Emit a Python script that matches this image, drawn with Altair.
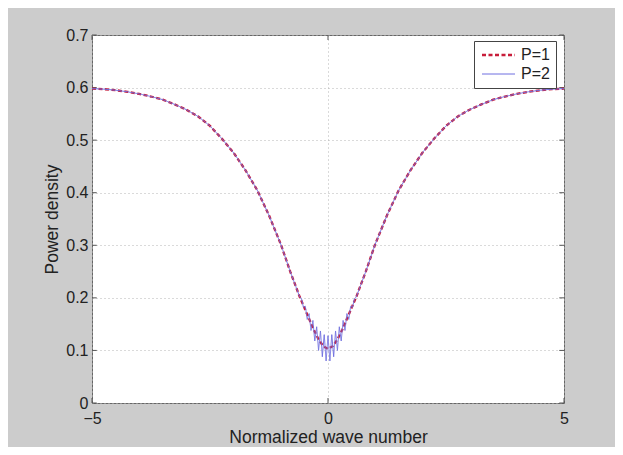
import altair as alt
import pandas as pd

# ---- data ----
series_names = ["P=1", "P=2"]
series_colors = ["#c81d3a", "#6f6fe0"]

x_ticks = [-5, 0, 5]
y_ticks = [0, 0.1, 0.2, 0.3, 0.4, 0.5, 0.6, 0.7]

x_p1 = [-5.0, -4.75, -4.5, -4.25, -4.0, -3.75, -3.5, -3.25, -3.0, -2.75, -2.5, -2.25,
        -2.0, -1.75, -1.5, -1.25, -1.0, -0.8, -0.6, -0.5, -0.4, -0.3, -0.2, -0.1, 0.0,
        0.1, 0.2, 0.3, 0.4, 0.5, 0.6, 0.8, 1.0, 1.25, 1.5, 1.75, 2.0, 2.25, 2.5, 2.75,
        3.0, 3.25, 3.5, 3.75, 4.0, 4.25, 4.5, 4.75, 5.0]
y_p1 = [0.598, 0.597, 0.595, 0.592, 0.588, 0.583, 0.577, 0.568, 0.558, 0.545, 0.527, 0.503,
        0.476, 0.443, 0.405, 0.357, 0.302, 0.250, 0.202, 0.181, 0.160, 0.139, 0.121, 0.108, 0.103,
        0.108, 0.121, 0.139, 0.160, 0.181, 0.202, 0.250, 0.302, 0.357, 0.405, 0.443, 0.476, 0.503,
        0.527, 0.545, 0.558, 0.568, 0.577, 0.583, 0.588, 0.592, 0.595, 0.597, 0.598]

# P=2 follows P=1 away from the centre and oscillates near k = 0
x_p2_center = [-0.56, -0.52, -0.48, -0.44, -0.40, -0.36, -0.32, -0.28, -0.24, -0.20, -0.16,
               -0.12, -0.08, -0.04, 0.00, 0.04, 0.08, 0.12, 0.16, 0.20, 0.24, 0.28, 0.32,
               0.36, 0.40, 0.44, 0.48, 0.52, 0.56]
y_p2_center = [0.198, 0.182, 0.184, 0.159, 0.170, 0.138, 0.157, 0.118, 0.145, 0.100, 0.137,
               0.088, 0.130, 0.080, 0.128, 0.080, 0.130, 0.088, 0.137, 0.100, 0.145, 0.118,
               0.157, 0.138, 0.170, 0.159, 0.184, 0.182, 0.198]

x_p2 = x_p1[:19] + x_p2_center + x_p1[30:]
y_p2 = y_p1[:19] + y_p2_center + y_p1[30:]

# ---- tables ----
df = pd.DataFrame({
    "x": x_p1 + x_p2,
    "y": y_p1 + y_p2,
    "series": [series_names[0]] * len(x_p1) + [series_names[1]] * len(x_p2),
    "order": list(range(len(x_p1))) + list(range(len(x_p2))),
})
ytick_df = pd.DataFrame({"y": y_ticks})
xtick_df = pd.DataFrame({"x": x_ticks})

xscale = alt.Scale(domain=[-5, 5], nice=False, zero=False)
yscale = alt.Scale(domain=[0, 0.7], nice=False)

FONT = "Liberation Sans"

lines = alt.Chart(df).mark_line(clip=True).encode(
    x=alt.X("x:Q", scale=xscale,
            axis=alt.Axis(values=x_ticks, title="Normalized wave number", grid=True,
                          labelPadding=7, titlePadding=2, labelFlush=False)),
    y=alt.Y("y:Q", scale=yscale,
            axis=alt.Axis(values=y_ticks, format="~g", title="Power density", grid=True,
                          labelPadding=4, titlePadding=4)),
    color=alt.Color("series:N", scale=alt.Scale(domain=series_names, range=series_colors),
                    legend=alt.Legend(title=None)),
    strokeDash=alt.StrokeDash("series:N",
                              scale=alt.Scale(domain=series_names, range=[[4, 2.5], [1, 0]]),
                              legend=alt.Legend(title=None)),
    strokeWidth=alt.StrokeWidth("series:N",
                                scale=alt.Scale(domain=series_names, range=[2.3, 1.0]),
                                legend=None),
    order="order:Q",
)

tick_color = "#555555"
left_ticks = alt.Chart(ytick_df).mark_rule(color=tick_color, strokeWidth=1).encode(
    y=alt.Y("y:Q", scale=yscale), x=alt.datum(-5), x2=alt.datum(-4.9))
right_ticks = alt.Chart(ytick_df).mark_rule(color=tick_color, strokeWidth=1).encode(
    y=alt.Y("y:Q", scale=yscale), x=alt.datum(4.9), x2=alt.datum(5))
bottom_ticks = alt.Chart(xtick_df).mark_rule(color=tick_color, strokeWidth=1).encode(
    x=alt.X("x:Q", scale=xscale), y=alt.datum(0), y2=alt.datum(0.0095))
top_ticks = alt.Chart(xtick_df).mark_rule(color=tick_color, strokeWidth=1).encode(
    x=alt.X("x:Q", scale=xscale), y=alt.datum(0.6905), y2=alt.datum(0.7))

chart = alt.layer(left_ticks, right_ticks, bottom_ticks, top_ticks, lines).properties(
    width=472,
    height=368,
    autosize=alt.AutoSizeParams(type="none"),
    padding={"left": 84, "top": 27, "right": 51, "bottom": 44},
    background="#cccccc",
).configure_view(
    fill="white", stroke="#666666", strokeWidth=1
).configure_axis(
    domain=False, ticks=False,
    labelFont=FONT, titleFont=FONT, labelFontSize=16, titleFontSize=17.5,
    labelColor="#222222", titleColor="#222222", titleFontWeight="normal",
    gridColor="#b5b5b5", gridDash=[1, 3], gridWidth=1,
    labelOverlap=False, labelBound=False,
).configure_legend(
    orient="none", legendX=382, legendY=6,
    fillColor="white", strokeColor="#444444", padding=6, cornerRadius=0,
    labelFont=FONT, labelFontSize=16, labelColor="#222222",
    symbolType="M-1,0H4.5", symbolSize=144, symbolStrokeWidth=1.6,
    labelOffset=25, rowPadding=3,
)

chart.save("out.html", embed_options={"renderer": "svg", "actions": False})
